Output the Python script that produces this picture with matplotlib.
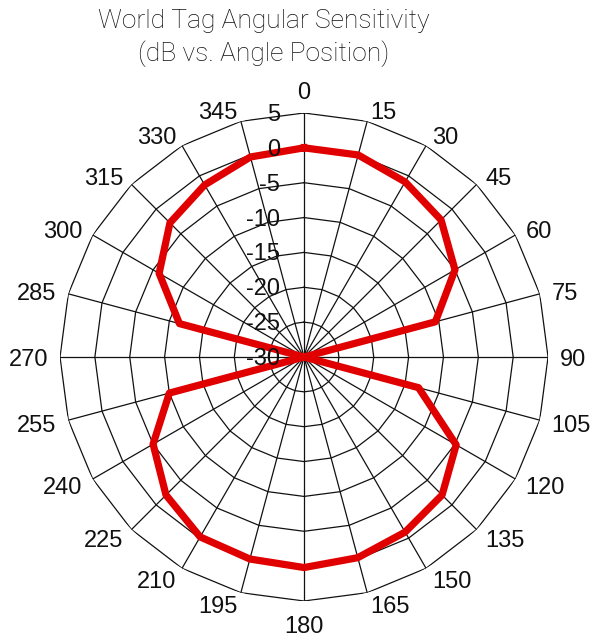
import numpy as np
import matplotlib
matplotlib.use("Agg")
import matplotlib.pyplot as plt
import matplotlib.transforms as mtransforms

plt.rcParams['font.family'] = ['Liberation Sans', 'DejaVu Sans']

# datos (dB por angulo)
angles = [0, 15, 30, 45, 60, 75, 90, 105, 120, 135, 150, 165,
          180, 195, 210, 225, 240, 255, 270, 285, 300, 315, 330, 345]
db = [0, 0, -1, -2.2, -5, -10.5, -30, -13, -4.8, -2, -1, -0.2,
      0.2, 0, -0.2, -2, -5, -10, -30, -11.5, -6, -2.8, -1.5, -0.3]
r_ticks = [-30, -25, -20, -15, -10, -5, 0, 5]
theta_labels = [str(a) for a in angles]

fig = plt.figure(figsize=(5.93, 6.43), dpi=100)
ax = fig.add_axes([0.1012, 0.0653, 0.823, 0.759], projection='polar')
ax.set_theta_zero_location('N')
ax.set_theta_direction(-1)
ax.set_ylim(r_ticks[0], r_ticks[-1])
ax.grid(False)
ax.set_xticks([])
ax.set_yticks([])
ax.spines['polar'].set_visible(False)

th = np.deg2rad(angles)
th_closed = np.append(th, th[0])

# anillos poligonales
for r in r_ticks[1:]:
    ax.plot(th_closed, [r] * len(th_closed), color='#111111', lw=0.9, zorder=1)
# radios
for t in th:
    ax.plot([t, t], [r_ticks[0], r_ticks[-1]], color='#111111', lw=0.9, zorder=1)

# curva
vals = np.append(db, db[0])
ax.plot(th_closed, vals, color='#e00000', lw=5.2, zorder=3)

# etiquetas de angulo (desplazadas hacia afuera del vertice exterior)
for t, lab in zip(th, theta_labels):
    s, c = np.sin(t), np.cos(t)
    dx, dy = 12 * s, 12 * c
    if abs(s) < 0.05:
        ha = 'center'
        va = 'bottom' if c > 0 else 'top'
        dy -= 3
    else:
        ha = 'left' if s > 0 else 'right'
        va = 'center'
        dy -= 3
    tr = mtransforms.offset_copy(ax.transData, fig=fig, x=dx, y=dy, units='dots')
    ax.text(t, r_ticks[-1], lab, transform=tr, ha=ha, va=va,
            fontsize=17, color='#111111')

# etiquetas radiales
off = mtransforms.offset_copy(ax.transData, fig=fig, x=-24, y=-2, units='dots')
for r in r_ticks:
    ax.text(0, r, str(r), transform=off, ha='right', va='center',
            fontsize=17, color='#111111', zorder=5)

fig.text(0.445, 0.9565, 'World Tag Angular Sensitivity', ha='center', va='baseline',
         fontsize=19, color='#111111', family=['Roboto', 'DejaVu Sans'],
         fontweight='light')
fig.text(0.445, 0.9051, '(dB vs. Angle Position)', ha='center', va='baseline',
         fontsize=19, color='#111111', family=['Roboto', 'DejaVu Sans'],
         fontweight='light')

fig.savefig('out.png', dpi=100)
